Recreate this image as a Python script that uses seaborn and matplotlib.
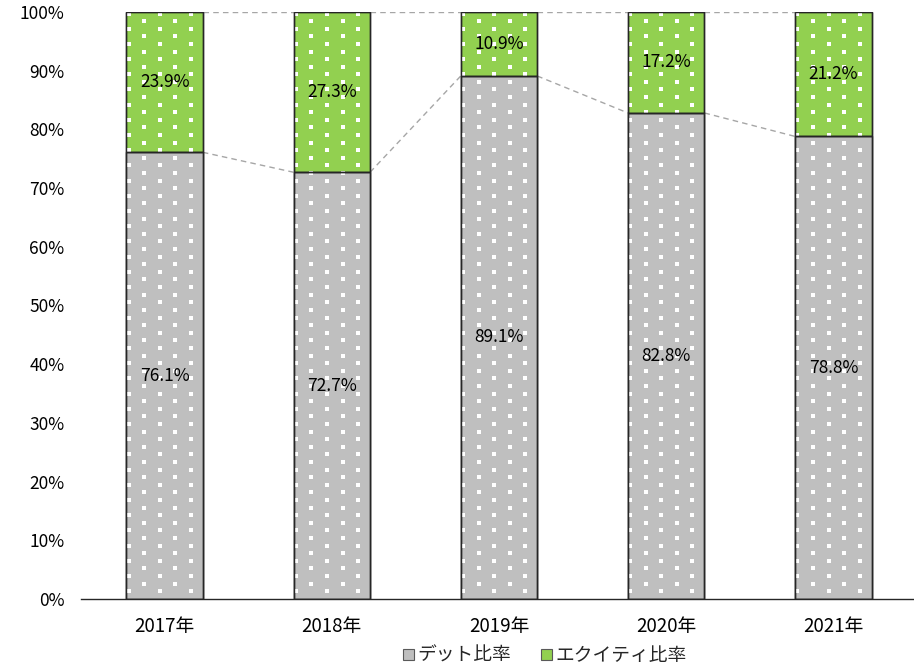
import numpy as np
import pandas as pd
import matplotlib
matplotlib.use("Agg")
import matplotlib.pyplot as plt
import seaborn as sns
from matplotlib.patches import Patch

# Capital structure by fiscal year (percent of total)
years = ["2017年", "2018年", "2019年", "2020年", "2021年"]
debt = [76.1, 72.7, 89.1, 82.8, 78.8]
equity = [23.9, 27.3, 10.9, 17.2, 21.2]
series_names = ["デット比率", "エクイティ比率"]
y_ticks = [0, 10, 20, 30, 40, 50, 60, 70, 80, 90, 100]

GRAY = "#BFBFBF"
GREEN = "#92D050"
EDGE = "#262626"
CONNECTOR = "#A6A6A6"

sns.set_theme(style="white")
plt.rcParams["font.family"] = ["Noto Sans CJK JP", "DejaVu Sans"]

df = pd.DataFrame({"year": years, "debt": debt, "equity": equity})
df["total"] = df["debt"] + df["equity"]

W_PX, H_PX = 914, 666
fig = plt.figure(figsize=(W_PX / 100, H_PX / 100), dpi=100)
ax_left, ax_right, ax_top, ax_bottom = 81, 913, 12, 599
ax = fig.add_axes([ax_left / W_PX, 1 - ax_bottom / H_PX,
                   (ax_right - ax_left) / W_PX, (ax_bottom - ax_top) / H_PX])

cat_px = 167.2          # spacing between category centres, pixels
bar_w = 76.5 / cat_px   # bar width in category units
# stacked bars: full-height equity bars underneath, debt bars on top
sns.barplot(data=df, x="year", y="total", color=GREEN, saturation=1,
            width=bar_w, edgecolor=EDGE, linewidth=1, ax=ax, zorder=2)
sns.barplot(data=df, x="year", y="debt", color=GRAY, saturation=1,
            width=bar_w, edgecolor=EDGE, linewidth=1, ax=ax, zorder=2)

ax.set_xlim(-0.5, -0.5 + (ax_right - ax_left) / cat_px)
ax.set_ylim(0, 100)

# white dot texture inside the bars (staggered grid, in pixel steps)
px_per_x = cat_px
px_per_y = (ax_bottom - ax_top) / 100.0
bar_px = bar_w * px_per_x
col_step, row_step = 31.1, 7.6
dot_x, dot_y = [], []
for i in range(len(years)):
    left = i - bar_w / 2
    k = 0
    ypx = 1.5
    while ypx < (ax_bottom - ax_top) - 2:
        start = 2.3 + (k % 2) * col_step / 2
        xo = start
        while xo < bar_px - 2:
            dot_x.append(left + xo / px_per_x)
            dot_y.append(100 - ypx / px_per_y)
            xo += col_step
        ypx += row_step
        k += 1
ax.scatter(dot_x, dot_y, marker="s", s=4.7, color="white", linewidths=0, zorder=3)

# redraw outlines above the texture
for i in range(len(years)):
    for lo, hi in ((0, debt[i]), (debt[i], debt[i] + equity[i])):
        ax.add_patch(plt.Rectangle((i - bar_w / 2, lo), bar_w, hi - lo,
                                   fill=False, edgecolor=EDGE, linewidth=1, zorder=4))

# dashed connectors between neighbouring bars
for i in range(len(years) - 1):
    ax.plot([i + bar_w / 2, i + 1 - bar_w / 2], [debt[i], debt[i + 1]],
            ls=(0, (4, 3)), color=CONNECTOR, lw=1, zorder=1)
    ax.plot([i + bar_w / 2, i + 1 - bar_w / 2], [debt[i] + equity[i], debt[i + 1] + equity[i + 1]],
            ls=(0, (4, 3)), color=CONNECTOR, lw=1, zorder=1)

# value labels
for i in range(len(years)):
    ax.text(i, debt[i] / 2, f"{debt[i]:.1f}%", ha="center", va="center",
            fontsize=12.5, color="black", zorder=5)
    ax.text(i, debt[i] + equity[i] / 2, f"{equity[i]:.1f}%", ha="center", va="center",
            fontsize=12.5, color="black", zorder=5)

ax.set_yticks(y_ticks)
ax.set_yticklabels([f"{t}%" for t in y_ticks])
ax.set_xlabel("")
ax.set_ylabel("")
ax.tick_params(axis="both", length=0, colors="black")
ax.tick_params(axis="y", pad=12, labelsize=12.5)
ax.tick_params(axis="x", pad=12, labelsize=13.5)
for s in ("top", "right", "left"):
    ax.spines[s].set_visible(False)
ax.spines["bottom"].set_color(EDGE)
ax.spines["bottom"].set_linewidth(1)
ax.grid(False)

handles = [Patch(facecolor=GRAY, edgecolor="#595959", linewidth=0.8),
           Patch(facecolor=GREEN, edgecolor="#595959", linewidth=0.8)]
fig.legend(handles, series_names, loc="center", ncol=2,
           bbox_to_anchor=(545 / W_PX, 1 - 655.5 / H_PX), frameon=False,
           fontsize=13.5, handlelength=0.55, handleheight=0.55,
           handletextpad=0.2, columnspacing=1.6, borderpad=0.1)

fig.savefig("out.png", dpi=100)
